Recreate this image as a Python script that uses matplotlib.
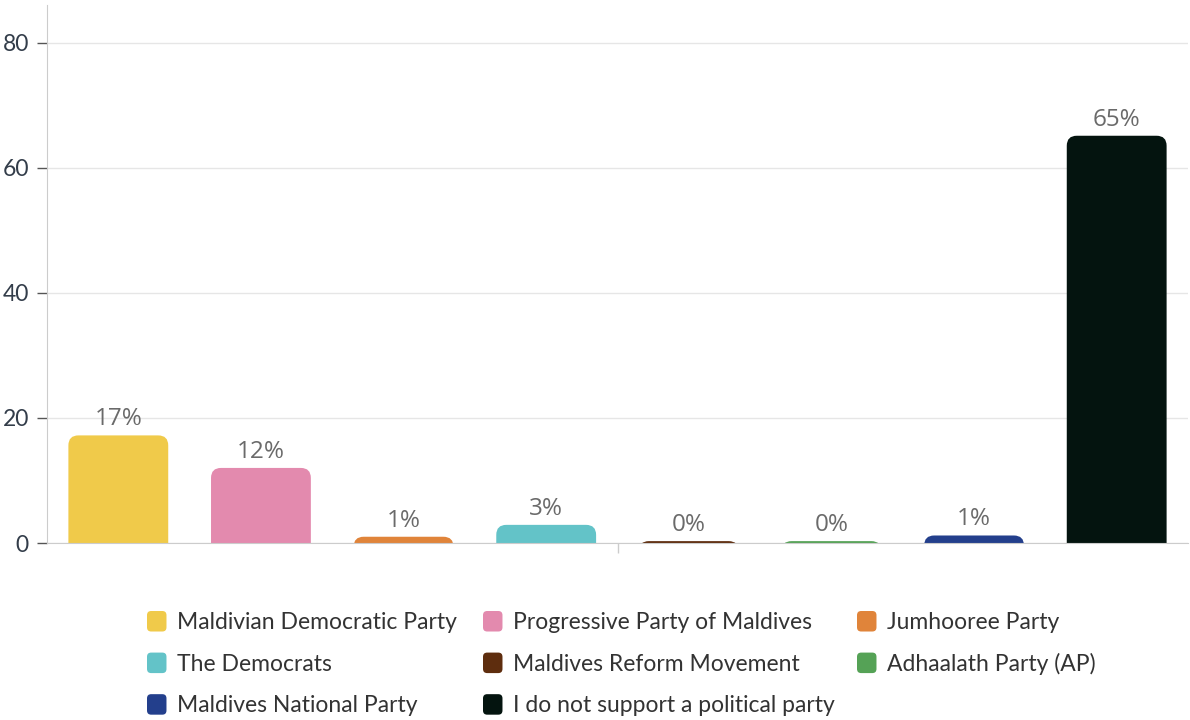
import matplotlib
matplotlib.use("Agg")
import matplotlib.pyplot as plt
from matplotlib.patches import FancyBboxPatch, Rectangle
from matplotlib.legend_handler import HandlerPatch

categories = ["Maldivian Democratic Party", "Progressive Party of Maldives", "Jumhooree Party",
              "The Democrats", "Maldives Reform Movement", "Adhaalath Party (AP)",
              "Maldives National Party", "I do not support a political party"]
values = [17.2, 12.0, 1.0, 2.9, 0.3, 0.3, 1.2, 65.1]
labels = ["17%", "12%", "1%", "3%", "0%", "0%", "1%", "65%"]
colors = ["#F0CA4A", "#E38AAE", "#E0843A", "#63C3C8", "#5E2D0E", "#55A256", "#233F8C", "#04140F"]
yticks = [0, 20, 40, 60, 80]

plt.rcParams['font.family'] = ['Lato', 'DejaVu Sans']

fig = plt.figure(figsize=(11.9, 7.2), dpi=100)
ax = fig.add_axes([47/1190, 177/720, 1141/1190, 538/720])
ax.set_xlim(-0.5, 7.5)
ax.set_ylim(0, 86)

x = list(range(len(categories)))
bars = ax.bar(x, values, width=0.70, color=colors, zorder=2)

px_x = 1141 / 8.0
px_y = 538 / 86.0
for rect, c in zip(bars, colors):
    rect.set_visible(False)
    x0, w, h = rect.get_x(), rect.get_width(), rect.get_height()
    ext = 3.0
    p = FancyBboxPatch((x0, -ext), w, h + ext,
                       boxstyle="round,pad=0,rounding_size=%f" % (10 / px_x),
                       mutation_aspect=px_x / px_y,
                       facecolor=c, edgecolor='none', zorder=2)
    ax.add_patch(p)

for xi, v, lab in zip(x, values, labels):
    ax.annotate(lab, (xi, v), xytext=(0, 3), textcoords='offset points',
                ha='center', va='bottom', fontsize=17.5, color='#6a6a6a', zorder=3,
                family=['Open Sans', 'DejaVu Sans'])

ax.set_yticks(yticks)
ax.set_yticklabels([str(t) for t in yticks], fontsize=16.5, color='#333D4A')
ax.tick_params(axis='y', length=7, width=1, color='#555555', pad=6)
ax.set_xticks([3.5])
ax.set_xticklabels([''])
ax.tick_params(axis='x', length=7, width=1, color='#cccccc', direction='out')
ax.grid(axis='y', color='#e6e6e6', linewidth=1, zorder=0)
ax.set_axisbelow(True)
for s in ['top', 'right']:
    ax.spines[s].set_visible(False)
ax.spines['left'].set_color('#cccccc')
ax.spines['bottom'].set_color('#cccccc')
ax.spines['bottom'].set_zorder(3)


def rounded_patch(legend, orig_handle, xdescent, ydescent, width, height, fontsize):
    return FancyBboxPatch((-xdescent, -ydescent), width, height,
                          boxstyle="round,pad=0,rounding_size=3")


handles = [Rectangle((0, 0), 1, 1, facecolor=c, edgecolor='none') for c in colors]
cols = [[0, 3, 6], [1, 4, 7], [2, 5]]
col_x = [147, 483, 857]
for cx, idx in zip(col_x, cols):
    fig.legend([handles[i] for i in idx], [categories[i] for i in idx],
               loc='upper left', bbox_to_anchor=(cx / 1190, 1 - 611 / 720),
               frameon=False, fontsize=16.5, handlelength=0.85, handleheight=1.0,
               handletextpad=0.48, labelspacing=0.85, borderpad=0, borderaxespad=0,
               labelcolor='#333333',
               handler_map={Rectangle: HandlerPatch(patch_func=rounded_patch)})

fig.savefig("out.png", dpi=100, facecolor='white')
